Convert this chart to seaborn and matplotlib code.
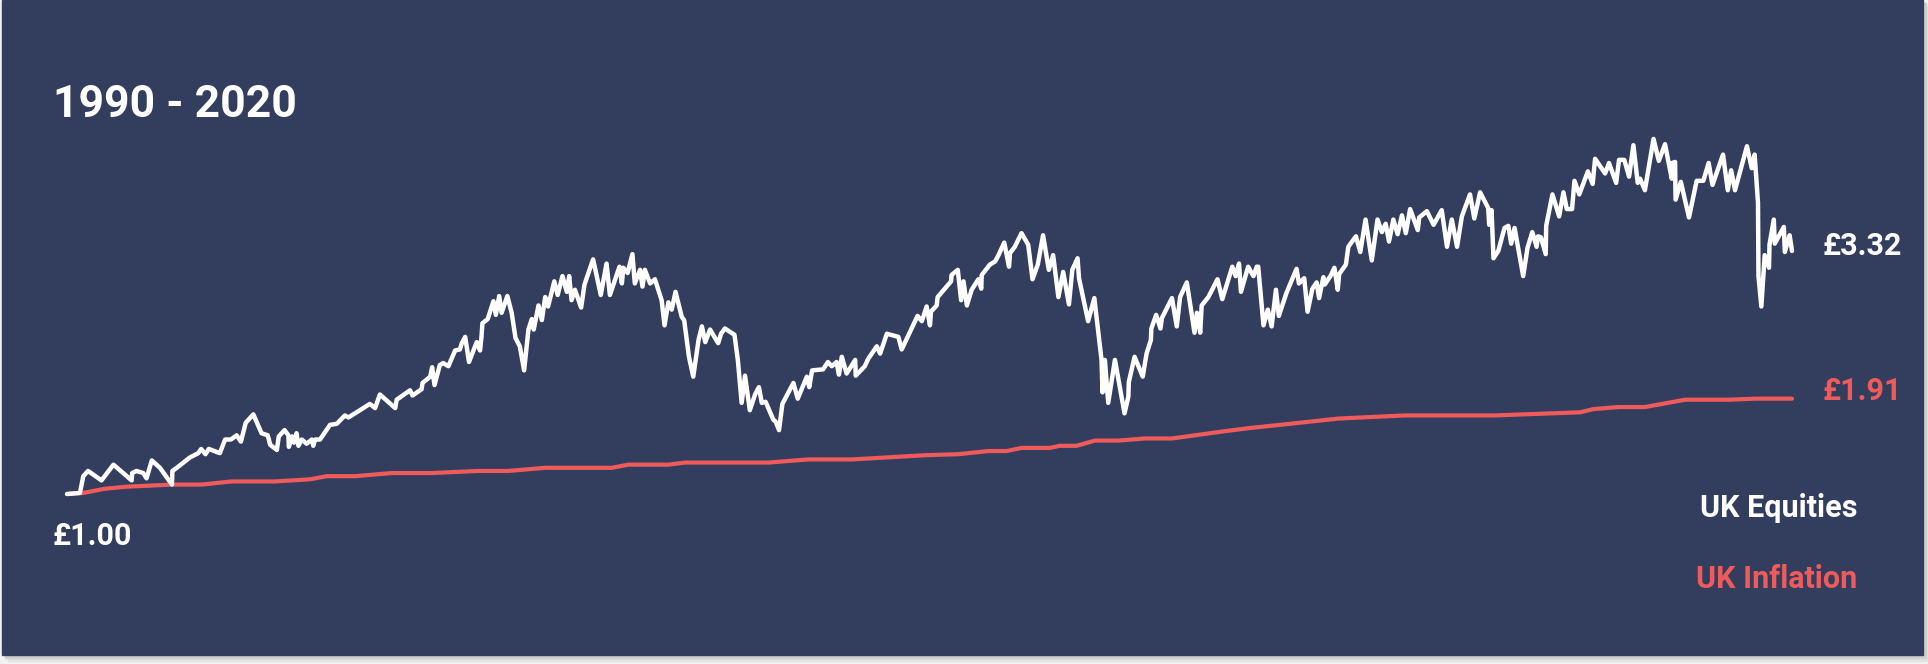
import matplotlib
matplotlib.use("Agg")
import matplotlib.pyplot as plt
import seaborn as sns
import pandas as pd
from matplotlib.patches import Rectangle

# months since the start of 1990
eq_months = [
    0, 2.7, 3.1, 3.4, 4.4, 7.2, 9.7, 13.5, 13.6, 14.5, 15.9, 16.6, 17.7, 19.4, 21.9, 22.0, 22.9, 25.7, 27.4, 28.0,
    28.9, 29.6, 31.9, 33.0, 34.2, 35.4, 36.3, 36.9, 37.3, 38.9, 40.6, 41.9, 42.4, 43.8, 44.2, 45.4, 46.2, 46.3, 47.0, 47.4,
    47.9, 48.3, 49.0, 50.0, 51.1, 51.4, 51.8, 52.8, 54.9, 56.3, 58.0, 58.7, 60.1,
    63.2, 64.3, 65.3, 68.5, 68.8, 71.6, 72.1, 74.0, 74.2, 75.8, 76.2, 76.7, 77.8, 78.5, 79.6, 81.0, 82.0, 82.4, 83.1, 83.9,
    85.5, 86.2, 86.5, 86.7, 87.8, 89.0, 89.5, 90.2, 90.7, 91.9, 92.8, 93.6, 94.5, 95.4, 96.3, 97.0, 97.4, 98.4, 99.1, 99.8,
    100.4, 101.7, 102.4, 103.4, 104.3, 104.8, 105.3, 106.0, 107.3, 108.0, 109.8, 111.4, 112.6, 113.3, 115.3, 115.8, 116.1,
    117.0, 118.0, 118.5,
    119.6, 120.1, 120.6, 121.7, 122.7, 124.1, 124.7, 125.5, 126.2, 127.0, 128.3, 128.8, 129.8, 130.7, 131.8, 132.5, 133.2,
    134.2, 135.9, 136.5, 137.3, 139.3, 140.0, 140.8, 141.5, 142.5, 143.6, 144.4, 145.0, 145.8, 147.4, 147.9, 148.6, 149.3,
    151.6, 152.5, 154.4, 154.9, 155.5, 157.8, 158.8, 159.6, 160.6, 161.1, 161.7, 162.7, 164.5, 164.6, 166.5, 167.2, 169.0,
    169.7, 171.1, 173.5, 174.2, 177.5, 178.4, 179.4, 180.1, 180.3, 181.5,
    181.7, 184.5, 184.6, 185.9, 186.6, 187.1, 187.8, 188.8, 190.2, 190.8, 190.9, 192.6, 193.7, 194.4, 195.6, 196.6, 196.8,
    197.8, 199.2, 200.6, 201.5, 202.6, 203.7, 204.9, 205.8, 206.9, 207.9, 209.1, 209.8, 210.9, 211.2, 213.1, 214.4, 215.9,
    216.1, 216.6, 217.3, 218.7, 220.7, 221.5, 221.6, 222.8, 224.5, 225.3, 226.2, 226.3, 227.3, 228.2, 228.5, 230.6, 231.6,
    232.3, 233.7, 235.3, 235.8, 236.5, 236.8, 238.2, 240.1, 241.1,
    243.2, 243.9, 244.6, 245.0, 246.5, 247.6, 248.3, 248.6, 249.7, 250.6, 251.4, 252.3, 252.9, 254.5, 256.6, 257.1, 258.2,
    258.9, 259.9, 260.8, 261.3, 262.2, 262.5, 263.8, 264.5, 265.2, 265.5, 266.9, 267.4, 269.0, 269.9, 271.0, 272.3, 273.5,
    274.4, 275.2, 275.9, 276.8, 277.7, 278.6, 279.4, 280.3, 281.9, 282.2, 283.8, 285.2, 286.9, 288.0, 289.0, 290.1, 291.1,
    292.8, 293.7, 294.9, 296.6, 296.8, 297.3, 297.7, 298.7, 300.0, 300.8,
    301.4, 302.1, 303.9, 304.8, 305.8, 306.7, 307.0, 307.6, 308.6, 308.7, 310.0, 311.4, 312.3, 313.0, 314.1, 314.6, 315.6,
    317.4, 318.4, 318.9, 321.0, 321.8, 323.3, 323.9, 325.0, 326.0, 326.9, 327.8, 328.3, 329.3, 331.1, 332.2, 333.5, 334.9,
    335.0, 335.6, 335.7, 336.8, 338.5, 340.1, 341.5, 342.6, 343.4, 345.6, 346.6, 347.3, 348.1, 350.6, 351.6, 352.2, 352.9,
    353.0, 353.6, 354.3, 355.2, 355.3, 356.2, 356.4, 358.3, 358.5, 359.5, 360.0,
]
# value of £1 invested in UK equities
eq_values = [
    1.00, 1.01, 1.10, 1.17, 1.22, 1.13, 1.28, 1.13, 1.20, 1.22, 1.20, 1.15, 1.32, 1.25, 1.09, 1.22, 1.25, 1.35, 1.39, 1.43,
    1.38, 1.43, 1.39, 1.52, 1.52, 1.56, 1.50, 1.61, 1.68, 1.76, 1.58, 1.56, 1.47, 1.42, 1.55, 1.61, 1.56, 1.45, 1.55, 1.49,
    1.58, 1.46, 1.52, 1.48, 1.52, 1.46, 1.52, 1.52, 1.66, 1.67, 1.75, 1.73, 1.77,
    1.86, 1.82, 1.95, 1.82, 1.90, 1.99, 1.94, 2.00, 2.06, 2.12, 2.21, 2.04, 2.23, 2.25, 2.22, 2.37, 2.38, 2.44, 2.50, 2.26,
    2.45, 2.37, 2.50, 2.63, 2.67, 2.84, 2.71, 2.89, 2.73, 2.89, 2.73, 2.49, 2.41, 2.18, 2.57, 2.67, 2.57, 2.80, 2.66, 2.88,
    2.79, 3.03, 2.90, 3.08, 2.93, 3.08, 2.85, 2.95, 2.78, 3.00, 3.24, 2.90, 3.20, 2.90, 3.17, 3.01, 3.16,
    3.11, 3.29, 3.01,
    3.14, 2.98, 3.14, 3.01, 3.05, 2.85, 2.61, 2.83, 2.76, 2.93, 2.69, 2.66, 2.31, 2.12, 2.47, 2.60, 2.45,
    2.57, 2.44, 2.53, 2.58, 2.52, 2.28, 1.87, 2.13, 1.80, 1.95, 2.02, 1.87, 1.88, 1.71, 1.69, 1.61, 1.86,
    2.06, 1.91, 2.12, 2.02, 2.18, 2.19, 2.26, 2.22, 2.26, 2.14, 2.31, 2.15, 2.28, 2.13, 2.22, 2.29, 2.41,
    2.34, 2.53, 2.50, 2.38, 2.70, 2.65, 2.79, 2.61, 2.74, 2.80,
    2.88, 3.03, 3.09, 3.14, 2.85, 3.03, 2.80, 2.95, 3.05, 2.96, 3.09, 3.19, 3.22, 3.28, 3.40, 3.17, 3.30,
    3.36, 3.49, 3.38, 3.05, 3.19, 3.47, 3.14, 3.28, 2.88, 3.12, 2.81, 3.14, 3.25, 3.06, 2.65, 2.87, 2.28,
    1.97, 2.28, 1.87, 2.28, 1.77, 1.93, 2.07, 2.31, 2.12, 2.34, 2.47, 2.58, 2.71, 2.58, 2.68, 2.87, 2.60,
    2.88, 3.02, 2.54, 2.73, 2.54, 2.80, 2.88, 3.05, 2.86,
    3.17, 3.08, 3.20, 2.93, 3.17, 3.08, 3.17, 3.17, 2.61, 2.76, 2.60, 2.95, 2.70, 2.92, 3.15, 3.01, 3.06,
    2.74, 2.96, 3.02, 2.87, 3.07, 3.00, 3.09, 3.16, 2.95, 3.10, 3.19, 3.36, 3.46, 3.31, 3.62, 3.23, 3.62,
    3.50, 3.58, 3.41, 3.62, 3.48, 3.66, 3.49, 3.72, 3.52, 3.64, 3.70, 3.57, 3.71, 3.36, 3.62, 3.36, 3.65,
    3.86, 3.63, 3.88, 3.73, 3.57, 3.71, 3.25, 3.32, 3.54, 3.56,
    3.39, 3.54, 3.08, 3.35, 3.50, 3.36, 3.46, 3.45, 3.29, 3.56, 3.86, 3.65, 3.88, 3.72, 3.72, 3.99, 3.86,
    4.08, 3.96, 4.20, 4.06, 4.16, 3.97, 4.19, 4.19, 4.03, 4.33, 3.97, 4.01, 3.90, 4.39, 4.18, 4.34, 4.01,
    4.16, 4.17, 3.81, 3.98, 3.64, 3.99, 3.99, 4.16, 3.95, 4.24, 3.90, 4.09, 3.90, 4.32, 4.11, 4.24, 3.78,
    3.08, 2.79, 3.28, 3.16, 3.38, 3.62, 3.39, 3.55, 3.31, 3.47, 3.32,
]

inf_months = [
    0, 3.4, 7.9, 12.5, 17.3, 21.9, 28.1, 34.4, 43.4, 50.7, 54.2, 60.1, 67.8, 76.1, 85.8, 92.1, 99.8, 113.7, 117.1, 125.5,
    129.0, 146.4, 154.7, 163.8, 179.0, 186.0, 192.3, 196.1, 199.2, 205.1, 207.2, 210.7, 214.5, 219.4, 225.0, 230.6, 241.7,
    246.9, 255.2, 265.3, 279.2, 298.0, 315.8, 318.5, 323.7, 329.3, 337.7, 346.7, 352.3, 360.0,
]
# value of £1 growing with UK inflation
inf_values = [
    1.00, 1.01, 1.05, 1.07, 1.08, 1.09, 1.09, 1.12, 1.12, 1.14, 1.17, 1.17, 1.20, 1.20, 1.22, 1.22, 1.25, 1.25, 1.28, 1.28,
    1.30, 1.30, 1.33, 1.33, 1.37, 1.38, 1.41, 1.41, 1.44, 1.44, 1.46, 1.46, 1.51, 1.51, 1.53, 1.53, 1.60,
    1.63, 1.67, 1.72, 1.75, 1.75, 1.78, 1.81, 1.83, 1.83, 1.90, 1.90, 1.91, 1.91,
]

title = "1990 - 2020"
series_names = ["UK Equities", "UK Inflation"]

NAVY = "#333e5e"
RED = "#ef5b5b"
W, H = 1928, 664

eq = pd.DataFrame({"month": eq_months, "value": eq_values})
inf = pd.DataFrame({"month": inf_months, "value": inf_values})

sns.set_style("white")
plt.rcParams['font.family'] = ['Roboto', 'DejaVu Sans']

fig = plt.figure(figsize=(W / 100, H / 100), dpi=100)
fig.patch.set_facecolor("#f2f2f2")

# card with a soft shadow on the right / bottom
for off, col in [(6, "#e2e2e2"), (3, "#d0d0d0")]:
    fig.patches.append(Rectangle(((2 + off) / W, (9 - off) / H), 1921 / W, 655 / H,
                                 transform=fig.transFigure, color=col, zorder=-3))
fig.patches.append(Rectangle((2 / W, 9 / H), 1921 / W, 655 / H,
                             transform=fig.transFigure, color=NAVY, zorder=-2))

ax = fig.add_axes([0, 0, 1, 1])
ax.set_facecolor("none")
ax.set_zorder(1)

sns.lineplot(data=inf, x="month", y="value", color=RED, linewidth=3.0,
             estimator=None, sort=False, legend=False, ax=ax)
sns.lineplot(data=eq, x="month", y="value", color="white", linewidth=3.2,
             estimator=None, sort=False, legend=False, ax=ax)

ax.set_xlim(-13.98, 388.38)
ax.set_ylim(-0.623, 5.716)
ax.axis("off")

def ftext(x, y, s, **kw):
    fig.text(x / W, 1 - y / H, s, fontweight="bold", va="baseline", **kw)

ftext(53, 117, title, color="white", fontsize=32)
ftext(53, 545, f"£{eq_values[0]:.2f}", color="white", fontsize=22)
ftext(1822, 255, f"£{eq_values[-1]:.2f}", color="white", fontsize=22)
ftext(1822, 400, f"£{inf_values[-1]:.2f}", color=RED, fontsize=22)
ftext(1857, 517, series_names[0], color="white", fontsize=22, ha="right")
ftext(1857, 588, series_names[1], color=RED, fontsize=22, ha="right")

fig.savefig("out.png", dpi=100, facecolor=fig.get_facecolor())
